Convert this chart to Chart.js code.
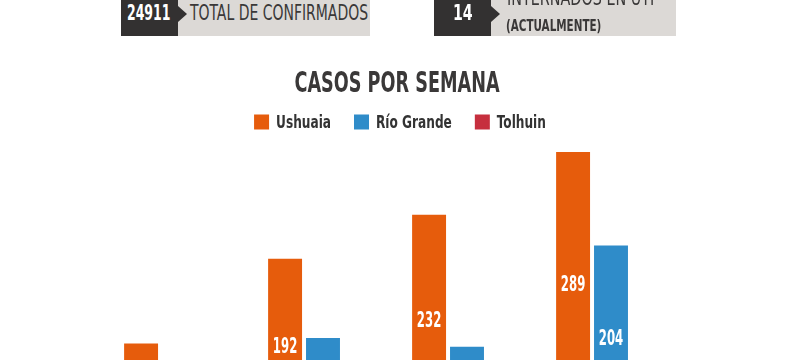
<!DOCTYPE html>
<html>
<head>
<meta charset="utf-8">
<script src="https://cdn.jsdelivr.net/npm/chart.js@4"></script>
<style>
  html, body { margin: 0; padding: 0; background: #fff; overflow: hidden; width: 800px; height: 360px; }
  #wrap { position: relative; width: 800px; height: 360px; overflow: hidden; }
  #chartBox { position: absolute; left: 0; top: 0; width: 800px; height: 500px; }
  .box { position: absolute; top: 0; height: 36px; }
  .dark { background: #333131; }
  .light { background: #dcd9d6; }
  .arrow { position: absolute; width: 0; height: 0; border-top: 8px solid transparent; border-bottom: 8px solid transparent; border-left: 9px solid #333131; }
  .txt { position: absolute; white-space: nowrap; transform-origin: 0 0; font-family: "DejaVu Sans Condensed", "Liberation Sans Narrow", Roboto, sans-serif; }
</style>
</head>
<body>
<div id="wrap">
  <div id="chartBox"><canvas id="c" width="800" height="500"></canvas></div>

  <div class="box light" style="left:178px;width:192px;"></div>
  <div class="box dark" style="left:121px;width:57px;"></div>
  <div class="arrow" style="left:178px;top:6px;"></div>
  <div class="txt" style="left:127px;top:1px;font-size:21px;font-weight:bold;color:#fff;transform:scaleX(0.66);">24911</div>
  <div class="txt" style="left:190px;top:1px;font-size:21px;color:#3a3838;transform:scaleX(0.74);">TOTAL DE CONFIRMADOS</div>

  <div class="box light" style="left:491px;width:185px;"></div>
  <div class="box dark" style="left:434px;width:57px;"></div>
  <div class="arrow" style="left:491px;top:6px;"></div>
  <div class="txt" style="left:453px;top:1px;font-size:21px;font-weight:bold;color:#fff;transform:scaleX(0.75);">14</div>
  <div class="txt" style="left:507px;top:-14px;font-size:21px;color:#3a3838;transform:scaleX(0.76);">INTERNADOS EN UTI</div>
  <div class="txt" style="left:506px;top:17px;font-size:15px;font-weight:bold;color:#3a3838;transform:scaleX(0.77);">(ACTUALMENTE)</div>
</div>
<script>
const categories = ["Semana 1", "Semana 2", "Semana 3", "Semana 4"];
const ushuaia = [115, 192, 232, 289];
const rioGrande = [80, 120, 112, 204];
const tolhuin = [15, 25, 30, 40];
const seriesNames = ["Ushuaia", "Río Grande", "Tolhuin"];
const titleText = "CASOS POR SEMANA";

const FONT = '"DejaVu Sans Condensed", "Liberation Sans Narrow", Roboto, sans-serif';

function narrowText(ctx, text, x, y, sx) {
  ctx.save();
  ctx.translate(x, y);
  ctx.scale(sx, 1);
  ctx.fillText(text, 0, 0);
  ctx.restore();
}

const headerPlugin = {
  id: 'header',
  afterDraw(chart) {
    const ctx = chart.ctx;
    ctx.save();
    ctx.fillStyle = '#3a3838';
    ctx.font = 'bold 28px ' + FONT;
    ctx.textAlign = 'center';
    ctx.textBaseline = 'middle';
    narrowText(ctx, titleText, 397, 85, 0.7);
    const sx = 0.75, box = 15, gapText = 7, gapItem = 23;
    ctx.font = 'bold 18px ' + FONT;
    const items = chart.data.datasets.map(ds => ({
      label: ds.label, color: ds.backgroundColor,
      w: ctx.measureText(ds.label).width * sx
    }));
    let total = 0;
    items.forEach((it, i) => { total += box + gapText + it.w + (i < items.length - 1 ? gapItem : 0); });
    let x = 400 - total / 2;
    const cy = 122;
    ctx.textAlign = 'left';
    items.forEach(it => {
      ctx.fillStyle = it.color;
      ctx.fillRect(x, cy - box / 2, box, box);
      ctx.fillStyle = '#333';
      narrowText(ctx, it.label, x + box + gapText, cy + 1, sx);
      x += box + gapText + it.w + gapItem;
    });
    ctx.restore();
  }
};

const valueLabels = {
  id: 'valueLabels',
  afterDatasetsDraw(chart) {
    const ctx = chart.ctx;
    const y = chart.scales.y;
    ctx.save();
    ctx.fillStyle = '#ffffff';
    ctx.font = 'bold 21px ' + FONT;
    ctx.textAlign = 'center';
    ctx.textBaseline = 'middle';
    chart.data.datasets.forEach((ds, i) => {
      const meta = chart.getDatasetMeta(i);
      meta.data.forEach((bar, j) => {
        const v = ds.data[j];
        if (v < 100) return;
        narrowText(ctx, String(v), bar.x, y.getPixelForValue(v * 0.58), 0.62);
      });
    });
    ctx.restore();
  }
};

new Chart(document.getElementById('c'), {
  type: 'bar',
  data: {
    labels: categories,
    datasets: [
      { label: seriesNames[0], data: ushuaia, backgroundColor: '#e65c0c' },
      { label: seriesNames[1], data: rioGrande, backgroundColor: '#2f8cc9' },
      { label: seriesNames[2], data: tolhuin, backgroundColor: '#c62f3e' }
    ]
  },
  options: {
    responsive: false,
    animation: false,
    events: [],
    layout: { padding: { left: 107, right: 117, top: 140, bottom: 30 } },
    datasets: { bar: { categoryPercentage: 0.79, barPercentage: 0.895 } },
    scales: {
      x: { display: false },
      y: { display: false, min: 0, max: 300 }
    },
    plugins: {
      tooltip: { enabled: false },
      title: { display: false },
      legend: { display: false }
    }
  },
  plugins: [valueLabels, headerPlugin]
});
</script>
</body>
</html>
